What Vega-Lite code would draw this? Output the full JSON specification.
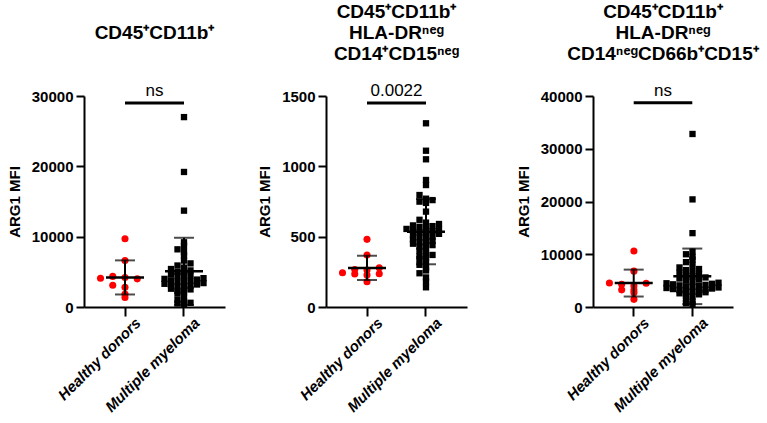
{
  "$schema": "https://vega.github.io/schema/vega-lite/v6.json",
  "padding": {"left": 7, "top": 2, "right": 2, "bottom": 2},
  "spacing": 32,
  "datasets": {
    "d": [
      {"panel":"A","group":"Healthy donors","value":9700},
      {"panel":"A","group":"Healthy donors","value":6600},
      {"panel":"A","group":"Healthy donors","value":4100},
      {"panel":"A","group":"Healthy donors","value":4000},
      {"panel":"A","group":"Healthy donors","value":4200},
      {"panel":"A","group":"Healthy donors","value":4350},
      {"panel":"A","group":"Healthy donors","value":2800},
      {"panel":"A","group":"Healthy donors","value":3100},
      {"panel":"A","group":"Healthy donors","value":1850},
      {"panel":"A","group":"Healthy donors","value":1350},
      {"panel":"A","group":"Multiple myeloma","value":27000},
      {"panel":"A","group":"Multiple myeloma","value":19200},
      {"panel":"A","group":"Multiple myeloma","value":13700},
      {"panel":"A","group":"Multiple myeloma","value":9200},
      {"panel":"A","group":"Multiple myeloma","value":8700},
      {"panel":"A","group":"Multiple myeloma","value":8200},
      {"panel":"A","group":"Multiple myeloma","value":7800},
      {"panel":"A","group":"Multiple myeloma","value":7300},
      {"panel":"A","group":"Multiple myeloma","value":6600},
      {"panel":"A","group":"Multiple myeloma","value":6200},
      {"panel":"A","group":"Multiple myeloma","value":5900},
      {"panel":"A","group":"Multiple myeloma","value":5600},
      {"panel":"A","group":"Multiple myeloma","value":5400},
      {"panel":"A","group":"Multiple myeloma","value":5200},
      {"panel":"A","group":"Multiple myeloma","value":5000},
      {"panel":"A","group":"Multiple myeloma","value":4900},
      {"panel":"A","group":"Multiple myeloma","value":4700},
      {"panel":"A","group":"Multiple myeloma","value":4500},
      {"panel":"A","group":"Multiple myeloma","value":4400},
      {"panel":"A","group":"Multiple myeloma","value":4200},
      {"panel":"A","group":"Multiple myeloma","value":4100},
      {"panel":"A","group":"Multiple myeloma","value":4000},
      {"panel":"A","group":"Multiple myeloma","value":3900},
      {"panel":"A","group":"Multiple myeloma","value":3800},
      {"panel":"A","group":"Multiple myeloma","value":3700},
      {"panel":"A","group":"Multiple myeloma","value":3600},
      {"panel":"A","group":"Multiple myeloma","value":3500},
      {"panel":"A","group":"Multiple myeloma","value":3400},
      {"panel":"A","group":"Multiple myeloma","value":3300},
      {"panel":"A","group":"Multiple myeloma","value":3200},
      {"panel":"A","group":"Multiple myeloma","value":3100},
      {"panel":"A","group":"Multiple myeloma","value":3000},
      {"panel":"A","group":"Multiple myeloma","value":2900},
      {"panel":"A","group":"Multiple myeloma","value":2800},
      {"panel":"A","group":"Multiple myeloma","value":2600},
      {"panel":"A","group":"Multiple myeloma","value":2500},
      {"panel":"A","group":"Multiple myeloma","value":2300},
      {"panel":"A","group":"Multiple myeloma","value":2100},
      {"panel":"A","group":"Multiple myeloma","value":1900},
      {"panel":"A","group":"Multiple myeloma","value":1500},
      {"panel":"A","group":"Multiple myeloma","value":1000},
      {"panel":"A","group":"Multiple myeloma","value":800},
      {"panel":"A","group":"Multiple myeloma","value":600},
      {"panel":"A","group":"Multiple myeloma","value":500},
      {"panel":"A","group":"Multiple myeloma","value":400},
      {"panel":"B","group":"Healthy donors","value":481},
      {"panel":"B","group":"Healthy donors","value":370},
      {"panel":"B","group":"Healthy donors","value":263},
      {"panel":"B","group":"Healthy donors","value":266},
      {"panel":"B","group":"Healthy donors","value":279},
      {"panel":"B","group":"Healthy donors","value":235},
      {"panel":"B","group":"Healthy donors","value":244},
      {"panel":"B","group":"Healthy donors","value":236},
      {"panel":"B","group":"Healthy donors","value":227},
      {"panel":"B","group":"Healthy donors","value":180},
      {"panel":"B","group":"Multiple myeloma","value":1306},
      {"panel":"B","group":"Multiple myeloma","value":1111},
      {"panel":"B","group":"Multiple myeloma","value":1050},
      {"panel":"B","group":"Multiple myeloma","value":903},
      {"panel":"B","group":"Multiple myeloma","value":867},
      {"panel":"B","group":"Multiple myeloma","value":796},
      {"panel":"B","group":"Multiple myeloma","value":770},
      {"panel":"B","group":"Multiple myeloma","value":760},
      {"panel":"B","group":"Multiple myeloma","value":749},
      {"panel":"B","group":"Multiple myeloma","value":740},
      {"panel":"B","group":"Multiple myeloma","value":678},
      {"panel":"B","group":"Multiple myeloma","value":620},
      {"panel":"B","group":"Multiple myeloma","value":600},
      {"panel":"B","group":"Multiple myeloma","value":590},
      {"panel":"B","group":"Multiple myeloma","value":580},
      {"panel":"B","group":"Multiple myeloma","value":575},
      {"panel":"B","group":"Multiple myeloma","value":570},
      {"panel":"B","group":"Multiple myeloma","value":560},
      {"panel":"B","group":"Multiple myeloma","value":555},
      {"panel":"B","group":"Multiple myeloma","value":550},
      {"panel":"B","group":"Multiple myeloma","value":545},
      {"panel":"B","group":"Multiple myeloma","value":540},
      {"panel":"B","group":"Multiple myeloma","value":530},
      {"panel":"B","group":"Multiple myeloma","value":525},
      {"panel":"B","group":"Multiple myeloma","value":520},
      {"panel":"B","group":"Multiple myeloma","value":510},
      {"panel":"B","group":"Multiple myeloma","value":500},
      {"panel":"B","group":"Multiple myeloma","value":495},
      {"panel":"B","group":"Multiple myeloma","value":490},
      {"panel":"B","group":"Multiple myeloma","value":480},
      {"panel":"B","group":"Multiple myeloma","value":470},
      {"panel":"B","group":"Multiple myeloma","value":460},
      {"panel":"B","group":"Multiple myeloma","value":455},
      {"panel":"B","group":"Multiple myeloma","value":450},
      {"panel":"B","group":"Multiple myeloma","value":440},
      {"panel":"B","group":"Multiple myeloma","value":430},
      {"panel":"B","group":"Multiple myeloma","value":420},
      {"panel":"B","group":"Multiple myeloma","value":400},
      {"panel":"B","group":"Multiple myeloma","value":385},
      {"panel":"B","group":"Multiple myeloma","value":370},
      {"panel":"B","group":"Multiple myeloma","value":360},
      {"panel":"B","group":"Multiple myeloma","value":350},
      {"panel":"B","group":"Multiple myeloma","value":340},
      {"panel":"B","group":"Multiple myeloma","value":320},
      {"panel":"B","group":"Multiple myeloma","value":300},
      {"panel":"B","group":"Multiple myeloma","value":280},
      {"panel":"B","group":"Multiple myeloma","value":260},
      {"panel":"B","group":"Multiple myeloma","value":240},
      {"panel":"B","group":"Multiple myeloma","value":210},
      {"panel":"B","group":"Multiple myeloma","value":180},
      {"panel":"B","group":"Multiple myeloma","value":140},
      {"panel":"C","group":"Healthy donors","value":10600},
      {"panel":"C","group":"Healthy donors","value":6800},
      {"panel":"C","group":"Healthy donors","value":4000},
      {"panel":"C","group":"Healthy donors","value":4500},
      {"panel":"C","group":"Healthy donors","value":4550},
      {"panel":"C","group":"Healthy donors","value":4300},
      {"panel":"C","group":"Healthy donors","value":3200},
      {"panel":"C","group":"Healthy donors","value":3250},
      {"panel":"C","group":"Healthy donors","value":2700},
      {"panel":"C","group":"Healthy donors","value":1450},
      {"panel":"C","group":"Multiple myeloma","value":32800},
      {"panel":"C","group":"Multiple myeloma","value":20400},
      {"panel":"C","group":"Multiple myeloma","value":14000},
      {"panel":"C","group":"Multiple myeloma","value":10500},
      {"panel":"C","group":"Multiple myeloma","value":10000},
      {"panel":"C","group":"Multiple myeloma","value":9500},
      {"panel":"C","group":"Multiple myeloma","value":9000},
      {"panel":"C","group":"Multiple myeloma","value":8500},
      {"panel":"C","group":"Multiple myeloma","value":8000},
      {"panel":"C","group":"Multiple myeloma","value":7500},
      {"panel":"C","group":"Multiple myeloma","value":7200},
      {"panel":"C","group":"Multiple myeloma","value":7000},
      {"panel":"C","group":"Multiple myeloma","value":6800},
      {"panel":"C","group":"Multiple myeloma","value":6500},
      {"panel":"C","group":"Multiple myeloma","value":6200},
      {"panel":"C","group":"Multiple myeloma","value":6000},
      {"panel":"C","group":"Multiple myeloma","value":5800},
      {"panel":"C","group":"Multiple myeloma","value":5600},
      {"panel":"C","group":"Multiple myeloma","value":5400},
      {"panel":"C","group":"Multiple myeloma","value":5200},
      {"panel":"C","group":"Multiple myeloma","value":5000},
      {"panel":"C","group":"Multiple myeloma","value":4800},
      {"panel":"C","group":"Multiple myeloma","value":4600},
      {"panel":"C","group":"Multiple myeloma","value":4500},
      {"panel":"C","group":"Multiple myeloma","value":4400},
      {"panel":"C","group":"Multiple myeloma","value":4300},
      {"panel":"C","group":"Multiple myeloma","value":4200},
      {"panel":"C","group":"Multiple myeloma","value":4100},
      {"panel":"C","group":"Multiple myeloma","value":4000},
      {"panel":"C","group":"Multiple myeloma","value":3900},
      {"panel":"C","group":"Multiple myeloma","value":3800},
      {"panel":"C","group":"Multiple myeloma","value":3700},
      {"panel":"C","group":"Multiple myeloma","value":3600},
      {"panel":"C","group":"Multiple myeloma","value":3500},
      {"panel":"C","group":"Multiple myeloma","value":3400},
      {"panel":"C","group":"Multiple myeloma","value":3300},
      {"panel":"C","group":"Multiple myeloma","value":3200},
      {"panel":"C","group":"Multiple myeloma","value":3100},
      {"panel":"C","group":"Multiple myeloma","value":3000},
      {"panel":"C","group":"Multiple myeloma","value":2900},
      {"panel":"C","group":"Multiple myeloma","value":2800},
      {"panel":"C","group":"Multiple myeloma","value":2600},
      {"panel":"C","group":"Multiple myeloma","value":2400},
      {"panel":"C","group":"Multiple myeloma","value":2200},
      {"panel":"C","group":"Multiple myeloma","value":2000},
      {"panel":"C","group":"Multiple myeloma","value":1500},
      {"panel":"C","group":"Multiple myeloma","value":1000},
      {"panel":"C","group":"Multiple myeloma","value":700},
      {"panel":"C","group":"Multiple myeloma","value":500}
    ]
  },
  "config": {
    "font": "Liberation Sans",
    "view": {"stroke": null},
    "axis": {
      "domainColor": "black", "domainWidth": 2, "tickColor": "black", "tickWidth": 2,
      "labelColor": "black", "labelFont": "Liberation Sans", "labelFontSize": 15, "labelFontWeight": "bold",
      "titleColor": "black", "titleFont": "Liberation Sans", "titleFontSize": 15, "titleFontWeight": "bold",
      "grid": false
    },
    "axisY": {"tickSize": 8, "labelPadding": 3, "titlePadding": 9, "labelFlush": false, "labelOverlap": false},
    "axisX": {"tickSize": 9, "labelAngle": -45, "labelAlign": "right", "labelBaseline": "middle", "labelFontStyle": "italic", "labelFontSize": 15, "labelPadding": 4, "labelOffset": 13, "labelLimit": 0},
    "title": {"font": "Liberation Sans", "fontSize": 19, "fontWeight": "bold", "color": "black", "lineHeight": 21, "frame": "group", "anchor": "middle"},
    "text": {"font": "Liberation Sans"}
  },
  "hconcat": [
    {
      "width": 141, "height": 211,
      "title": {"text": "CD45⁺CD11b⁺", "offset": 39},
      "resolve": {"scale": {"xOffset": "independent"}},
      "encoding": {
        "x": {"field": "group", "type": "nominal", "title": null, "scale": {"domain": ["Healthy donors", "Multiple myeloma"], "paddingInner": 0, "paddingOuter": 0.195}}
      },
      "layer": [
        {
          "data": {"name": "d"},
          "transform": [
            {"filter": "datum.panel === 'A' && datum.group === 'Healthy donors'"},
            {"bin": {"step": 1400}, "field": "value", "as": "vb"},
            {"window": [{"op": "row_number", "as": "k"}], "groupby": ["vb"], "sort": [{"field": "value", "order": "ascending"}]}
          ],
          "mark": {"type": "circle", "color": "#ff0000", "size": 50, "opacity": 1},
          "encoding": {
            "xOffset": {"field": "k", "type": "ordinal", "scale": {"domain": [6, 4, 2, 1, 3, 5, 7], "range": [-7.25, 66.25], "paddingInner": 0, "paddingOuter": 0}},
            "y": {"field": "value", "type": "quantitative", "title": "ARG1 MFI", "scale": {"domain": [0, 30000], "nice": false}, "axis": {"values": [0, 10000, 20000, 30000], "format": "d"}}
          }
        },
        {
          "data": {"name": "d"},
          "transform": [
            {"filter": "datum.panel === 'A' && datum.group === 'Multiple myeloma'"},
            {"bin": {"step": 700}, "field": "value", "as": "vb"},
            {"window": [{"op": "row_number", "as": "k"}], "groupby": ["vb"], "sort": [{"field": "value", "order": "ascending"}]}
          ],
          "mark": {"type": "square", "color": "black", "size": 40, "opacity": 1},
          "encoding": {
            "xOffset": {"field": "k", "type": "ordinal", "scale": {"domain": [12, 10, 8, 6, 4, 2, 1, 3, 5, 7, 9, 11, 13], "range": [-9.5, 68.5], "paddingInner": 0, "paddingOuter": 0}},
            "y": {"field": "value", "type": "quantitative", "title": "ARG1 MFI"}
          }
        },
        {
          "data": {"name": "d"},
          "transform": [{"filter": "datum.panel === 'A'"}],
          "mark": {"type": "errorbar", "extent": "stdev", "color": "black", "thickness": 2, "size": 20, "ticks": true},
          "encoding": {"y": {"field": "value", "type": "quantitative", "title": "ARG1 MFI"}}
        },
        {
          "data": {"name": "d"},
          "transform": [{"filter": "datum.panel === 'A'"}],
          "mark": {"type": "tick", "color": "black", "thickness": 2.5, "size": 38, "opacity": 1},
          "encoding": {"y": {"aggregate": "mean", "field": "value", "type": "quantitative", "title": "ARG1 MFI"}}
        },
        {
          "data": {"values": [{"label": "ns"}]},
          "mark": {"type": "rule", "color": "black", "strokeWidth": 3},
          "encoding": {"x": {"datum": "Healthy donors"}, "x2": {"datum": "Multiple myeloma"}, "y": {"datum": 29000}}
        },
        {
          "data": {"values": [{"label": "ns"}]},
          "mark": {"type": "text", "baseline": "bottom", "dy": -3, "fontSize": 17, "color": "black"},
          "encoding": {"x": {"datum": "Healthy donors", "bandPosition": 1}, "y": {"datum": 29000}, "text": {"field": "label"}}
        }
      ]
    },
    {
      "width": 141, "height": 211,
      "title": {"text": ["CD45⁺CD11b⁺", "HLA-DRⁿᵉᵍ", "CD14⁺CD15ⁿᵉᵍ"], "offset": 18},
      "resolve": {"scale": {"xOffset": "independent"}},
      "encoding": {
        "x": {"field": "group", "type": "nominal", "title": null, "scale": {"domain": ["Healthy donors", "Multiple myeloma"], "paddingInner": 0, "paddingOuter": 0.195}}
      },
      "layer": [
        {
          "data": {"name": "d"},
          "transform": [
            {"filter": "datum.panel === 'B' && datum.group === 'Healthy donors'"},
            {"bin": {"step": 35}, "field": "value", "as": "vb"},
            {"window": [{"op": "row_number", "as": "k"}], "groupby": ["vb"], "sort": [{"field": "value", "order": "ascending"}]}
          ],
          "mark": {"type": "circle", "color": "#ff0000", "size": 50, "opacity": 1},
          "encoding": {
            "xOffset": {"field": "k", "type": "ordinal", "scale": {"domain": [6, 4, 2, 1, 3, 5, 7], "range": [-7.25, 66.25], "paddingInner": 0, "paddingOuter": 0}},
            "y": {"field": "value", "type": "quantitative", "title": "ARG1 MFI", "scale": {"domain": [0, 1500], "nice": false}, "axis": {"values": [0, 500, 1000, 1500], "format": "d"}}
          }
        },
        {
          "data": {"name": "d"},
          "transform": [
            {"filter": "datum.panel === 'B' && datum.group === 'Multiple myeloma'"},
            {"bin": {"step": 35}, "field": "value", "as": "vb"},
            {"window": [{"op": "row_number", "as": "k"}], "groupby": ["vb"], "sort": [{"field": "value", "order": "ascending"}]}
          ],
          "mark": {"type": "square", "color": "black", "size": 40, "opacity": 1},
          "encoding": {
            "xOffset": {"field": "k", "type": "ordinal", "scale": {"domain": [12, 10, 8, 6, 4, 2, 1, 3, 5, 7, 9, 11, 13], "range": [-9.5, 68.5], "paddingInner": 0, "paddingOuter": 0}},
            "y": {"field": "value", "type": "quantitative", "title": "ARG1 MFI"}
          }
        },
        {
          "data": {"name": "d"},
          "transform": [{"filter": "datum.panel === 'B'"}],
          "mark": {"type": "errorbar", "extent": "stdev", "color": "black", "thickness": 2, "size": 20, "ticks": true},
          "encoding": {"y": {"field": "value", "type": "quantitative", "title": "ARG1 MFI"}}
        },
        {
          "data": {"name": "d"},
          "transform": [{"filter": "datum.panel === 'B'"}],
          "mark": {"type": "tick", "color": "black", "thickness": 2.5, "size": 38, "opacity": 1},
          "encoding": {"y": {"aggregate": "mean", "field": "value", "type": "quantitative", "title": "ARG1 MFI"}}
        },
        {
          "data": {"values": [{"label": "0.0022"}]},
          "mark": {"type": "rule", "color": "black", "strokeWidth": 3},
          "encoding": {"x": {"datum": "Healthy donors"}, "x2": {"datum": "Multiple myeloma"}, "y": {"datum": 1450}}
        },
        {
          "data": {"values": [{"label": "0.0022"}]},
          "mark": {"type": "text", "baseline": "bottom", "dy": -3, "fontSize": 17, "color": "black"},
          "encoding": {"x": {"datum": "Healthy donors", "bandPosition": 1}, "y": {"datum": 1450}, "text": {"field": "label"}}
        },
        {
          "data": {"values": [{"label": "WW"}]},
          "mark": {"type": "text", "align": "left", "baseline": "middle", "fontSize": 15, "color": "white", "opacity": 0},
          "encoding": {"x": {"datum": "Multiple myeloma", "bandPosition": 1}, "y": {"datum": 750}, "text": {"field": "label"}}
        }
      ]
    },
    {
      "width": 140, "height": 211,
      "title": {"text": ["CD45⁺CD11b⁺", "HLA-DRⁿᵉᵍ", "CD14ⁿᵉᵍCD66b⁺CD15⁺"], "offset": 18},
      "resolve": {"scale": {"xOffset": "independent"}},
      "encoding": {
        "x": {"field": "group", "type": "nominal", "title": null, "scale": {"domain": ["Healthy donors", "Multiple myeloma"], "paddingInner": 0, "paddingOuter": 0.195}}
      },
      "layer": [
        {
          "data": {"name": "d"},
          "transform": [
            {"filter": "datum.panel === 'C' && datum.group === 'Healthy donors'"},
            {"bin": {"step": 1000}, "field": "value", "as": "vb"},
            {"window": [{"op": "row_number", "as": "k"}], "groupby": ["vb"], "sort": [{"field": "value", "order": "ascending"}]}
          ],
          "mark": {"type": "circle", "color": "#ff0000", "size": 50, "opacity": 1},
          "encoding": {
            "xOffset": {"field": "k", "type": "ordinal", "scale": {"domain": [6, 4, 2, 1, 3, 5, 7], "range": [-7.25, 66.25], "paddingInner": 0, "paddingOuter": 0}},
            "y": {"field": "value", "type": "quantitative", "title": "ARG1 MFI", "scale": {"domain": [0, 40000], "nice": false}, "axis": {"values": [0, 10000, 20000, 30000, 40000], "format": "d"}}
          }
        },
        {
          "data": {"name": "d"},
          "transform": [
            {"filter": "datum.panel === 'C' && datum.group === 'Multiple myeloma'"},
            {"bin": {"step": 950}, "field": "value", "as": "vb"},
            {"window": [{"op": "row_number", "as": "k"}], "groupby": ["vb"], "sort": [{"field": "value", "order": "ascending"}]}
          ],
          "mark": {"type": "square", "color": "black", "size": 40, "opacity": 1},
          "encoding": {
            "xOffset": {"field": "k", "type": "ordinal", "scale": {"domain": [12, 10, 8, 6, 4, 2, 1, 3, 5, 7, 9, 11, 13], "range": [-9.5, 68.5], "paddingInner": 0, "paddingOuter": 0}},
            "y": {"field": "value", "type": "quantitative", "title": "ARG1 MFI"}
          }
        },
        {
          "data": {"name": "d"},
          "transform": [{"filter": "datum.panel === 'C'"}],
          "mark": {"type": "errorbar", "extent": "stdev", "color": "black", "thickness": 2, "size": 20, "ticks": true},
          "encoding": {"y": {"field": "value", "type": "quantitative", "title": "ARG1 MFI"}}
        },
        {
          "data": {"name": "d"},
          "transform": [{"filter": "datum.panel === 'C'"}],
          "mark": {"type": "tick", "color": "black", "thickness": 2.5, "size": 38, "opacity": 1},
          "encoding": {"y": {"aggregate": "mean", "field": "value", "type": "quantitative", "title": "ARG1 MFI"}}
        },
        {
          "data": {"values": [{"label": "ns"}]},
          "mark": {"type": "rule", "color": "black", "strokeWidth": 3},
          "encoding": {"x": {"datum": "Healthy donors"}, "x2": {"datum": "Multiple myeloma"}, "y": {"datum": 38700}}
        },
        {
          "data": {"values": [{"label": "ns"}]},
          "mark": {"type": "text", "baseline": "bottom", "dy": -3, "fontSize": 17, "color": "black"},
          "encoding": {"x": {"datum": "Healthy donors", "bandPosition": 1}, "y": {"datum": 38700}, "text": {"field": "label"}}
        }
      ]
    }
  ]
}
